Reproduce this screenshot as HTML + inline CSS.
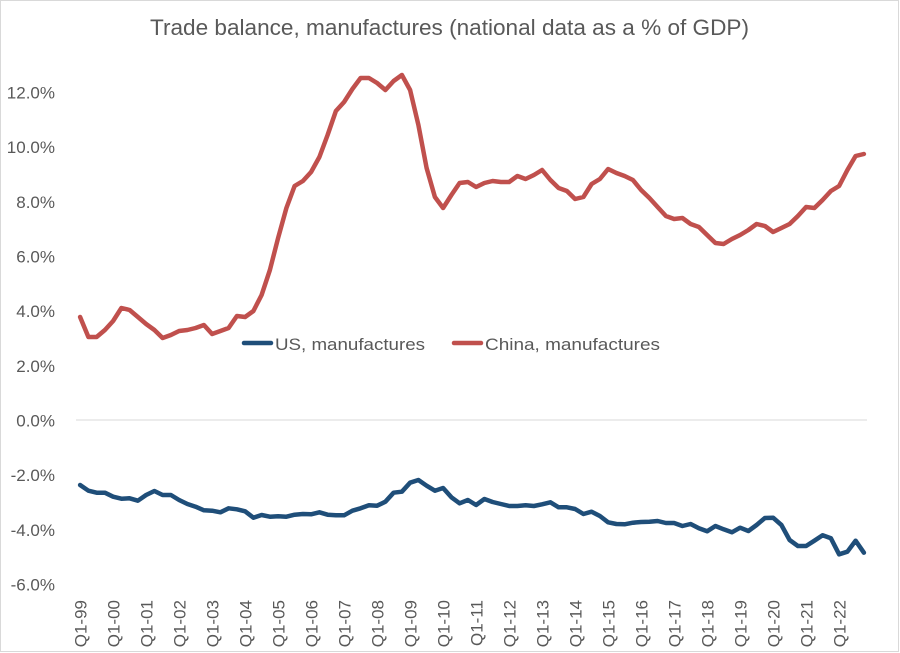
<!DOCTYPE html>
<html>
<head>
<meta charset="utf-8">
<style>
  html, body { margin: 0; padding: 0; background: #ffffff; }
  body { width: 900px; height: 653px; overflow: hidden; }
  svg { display: block; }
  text { font-family: "Liberation Sans", "DejaVu Sans", sans-serif; fill: #595959; }
</style>
</head>
<body>
<svg width="900" height="653" viewBox="0 0 900 653" xmlns="http://www.w3.org/2000/svg">
  <rect x="0.5" y="0.5" width="898" height="651" fill="#ffffff" stroke="#d9d9d9" stroke-width="1"/>

  <!-- Title -->
  <text x="150" y="35" font-size="22" textLength="599" lengthAdjust="spacingAndGlyphs">Trade balance, manufactures (national data as a % of GDP)</text>

  <!-- Y axis labels -->
  <g font-size="17" text-anchor="end">
    <text x="55" y="98.5">12.0%</text>
    <text x="55" y="153.2">10.0%</text>
    <text x="55" y="207.8">8.0%</text>
    <text x="55" y="262.5">6.0%</text>
    <text x="55" y="317.2">4.0%</text>
    <text x="55" y="371.8">2.0%</text>
    <text x="55" y="426.5">0.0%</text>
    <text x="55" y="481.2">-2.0%</text>
    <text x="55" y="535.8">-4.0%</text>
    <text x="55" y="590.5">-6.0%</text>
  </g>

  <!-- Zero line -->
  <line x1="76" y1="420" x2="867" y2="420" stroke="#d9d9d9" stroke-width="1"/>

  <!-- X axis labels -->
  <g font-size="17" text-anchor="end">
    <text transform="translate(86.6,600) rotate(-90)">Q1-99</text>
    <text transform="translate(119.6,600) rotate(-90)">Q1-00</text>
    <text transform="translate(152.6,600) rotate(-90)">Q1-01</text>
    <text transform="translate(185.6,600) rotate(-90)">Q1-02</text>
    <text transform="translate(218.6,600) rotate(-90)">Q1-03</text>
    <text transform="translate(251.6,600) rotate(-90)">Q1-04</text>
    <text transform="translate(284.6,600) rotate(-90)">Q1-05</text>
    <text transform="translate(317.6,600) rotate(-90)">Q1-06</text>
    <text transform="translate(350.6,600) rotate(-90)">Q1-07</text>
    <text transform="translate(383.6,600) rotate(-90)">Q1-08</text>
    <text transform="translate(416.6,600) rotate(-90)">Q1-09</text>
    <text transform="translate(449.6,600) rotate(-90)">Q1-10</text>
    <text transform="translate(482.6,600) rotate(-90)">Q1-11</text>
    <text transform="translate(515.6,600) rotate(-90)">Q1-12</text>
    <text transform="translate(548.6,600) rotate(-90)">Q1-13</text>
    <text transform="translate(581.6,600) rotate(-90)">Q1-14</text>
    <text transform="translate(614.6,600) rotate(-90)">Q1-15</text>
    <text transform="translate(647.6,600) rotate(-90)">Q1-16</text>
    <text transform="translate(680.6,600) rotate(-90)">Q1-17</text>
    <text transform="translate(713.6,600) rotate(-90)">Q1-18</text>
    <text transform="translate(746.6,600) rotate(-90)">Q1-19</text>
    <text transform="translate(779.6,600) rotate(-90)">Q1-20</text>
    <text transform="translate(812.6,600) rotate(-90)">Q1-21</text>
    <text transform="translate(845.6,600) rotate(-90)">Q1-22</text>
  </g>

  <!-- China series -->
  <polyline fill="none" stroke="#c0504d" stroke-width="4.5" stroke-linejoin="round" stroke-linecap="round"
    points="80.1,317 88.4,337 96.6,337 104.9,330 113.1,321 121.4,308 129.6,310 137.9,317 146.1,324 154.4,330 162.6,338 170.9,335 179.1,331 187.4,330 195.6,328 203.9,325 212.1,334 220.4,331 228.6,328 236.9,316 245.1,317 253.4,311 261.6,295 269.9,270 278.1,238 286.4,208 294.6,186 302.9,181 311.1,172 319.4,157 327.6,135 335.9,111 344.1,102 352.4,89 360.6,78 368.9,78 377.1,83 385.4,90 393.6,81 401.9,75 410.1,90 418.4,125 426.6,168 434.9,197 443.1,208 451.4,195 459.6,183 467.9,182 476.1,187 484.4,183 492.6,181 500.9,182 509.1,182 517.4,176 525.6,179 533.9,175 542.1,170 550.4,180 558.6,188 566.9,191 575.1,199 583.4,197 591.6,184 599.9,179 608.1,169 616.4,173 624.6,176 632.9,180 641.1,190 649.4,198 657.6,207 665.9,216 674.1,219 682.4,218 690.6,224 698.9,227 707.1,235 715.4,243 723.6,244 731.9,239 740.1,235 748.4,230 756.6,224 764.9,226 773.1,232 781.4,228 789.6,224 797.9,216 806.1,207 814.4,208 822.6,200 830.9,191 839.1,186 847.4,170 855.6,156 863.9,154"/>

  <!-- US series -->
  <polyline fill="none" stroke="#1f4e79" stroke-width="4.5" stroke-linejoin="round" stroke-linecap="round"
    points="80.1,485 88.4,490.7 96.6,492.7 104.9,492.7 113.1,496.7 121.4,498.7 129.6,498.3 137.9,500.7 146.1,495 154.4,491 162.6,495 170.9,495 179.1,500 187.4,504 195.6,506.7 203.9,510.3 212.1,510.7 220.4,512.3 228.6,508.3 236.9,509.3 245.1,511.3 253.4,517.7 261.6,515 269.9,516.7 278.1,516.3 286.4,516.7 294.6,514.7 302.9,514 311.1,514.3 319.4,512.3 327.6,514.7 335.9,515.3 344.1,515.3 352.4,510.7 360.6,508.3 368.9,505.3 377.1,505.7 385.4,501.7 393.6,492.7 401.9,491.7 410.1,482.7 418.4,480 426.6,485.7 434.9,490.7 443.1,488 451.4,497.3 459.6,503.3 467.9,500 476.1,505 484.4,499 492.6,502 500.9,504 509.1,506 517.4,506 525.6,505.3 533.9,506 542.1,504.3 550.4,502.3 558.6,507.3 566.9,507.3 575.1,509 583.4,514 591.6,511.7 599.9,516 608.1,522.3 616.4,524 624.6,524.3 632.9,522.7 641.1,522 649.4,521.7 657.6,521 665.9,523 674.1,523 682.4,526 690.6,524 698.9,528.3 707.1,531.3 715.4,526 723.6,529.3 731.9,532.3 740.1,527.7 748.4,531 756.6,525 764.9,518 773.1,517.7 781.4,525 789.6,540 797.9,546 806.1,546 814.4,540.7 822.6,535.3 830.9,538.3 839.1,554.3 847.4,551.7 855.6,540.7 863.9,552.7"/>

  <!-- Legend -->
  <line x1="244" y1="343" x2="271" y2="343" stroke="#1f4e79" stroke-width="4.5" stroke-linecap="round"/>
  <text x="275" y="350" font-size="17" textLength="150" lengthAdjust="spacingAndGlyphs">US, manufactures</text>
  <line x1="454" y1="343" x2="481" y2="343" stroke="#c0504d" stroke-width="4.5" stroke-linecap="round"/>
  <text x="485" y="350" font-size="17" textLength="175" lengthAdjust="spacingAndGlyphs">China, manufactures</text>
</svg>
</body>
</html>
